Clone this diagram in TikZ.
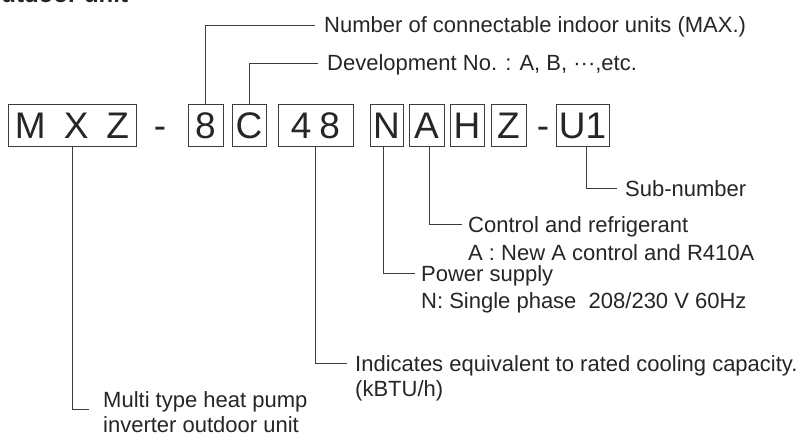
\documentclass[tikz,border=0pt]{standalone}
\usepackage{fontspec}
\setmainfont{Liberation Sans}
\definecolor{ink}{HTML}{262626}
\definecolor{wire}{HTML}{3C3C3C}
\begin{document}
\begin{tikzpicture}[x=1pt,y=-1pt,
  box/.style={draw=wire, line width=0.9pt, inner sep=0pt, minimum height=42pt,
    text height=26.6pt, text depth=0pt, font=\fontsize{37}{40}\selectfont, text=ink},
  dashc/.style={inner sep=0pt, text height=26.6pt, text depth=0pt,
    font=\fontsize{37}{40}\selectfont, text=ink},
  lab/.style={anchor=base west, inner sep=0pt, text height=16pt, text depth=0pt,
    font=\fontsize{22}{27}\selectfont, text=ink},
  wirel/.style={draw=wire, line width=0.9pt}]
\useasboundingbox (0,0) rectangle (807,436);
\clip (0,0) rectangle (807,436);
\fill[white] (0,0) rectangle (807,436);
% title (cut by the frame, as in the reference)
\node[anchor=base west, inner sep=0pt, font=\fontsize{24}{28}\bfseries\selectfont, text=ink] (title) at (-17.5,3) {Outdoor unit};
% code boxes
\node[box, minimum width=128pt] (bMXZ) at (72,125) {M\hspace{18pt}X\hspace{18pt}Z};
\node[dashc] (d1) at (160,125) {-};
\node[box, minimum width=35pt] (b8) at (205.5,125) {8};
\node[box, minimum width=34pt] (bC) at (249,125) {C};
\node[box, minimum width=75pt] (b48) at (315.5,125) {4\hspace{8pt}8};
\node[box, minimum width=33pt] (bN) at (386.5,125) {N};
\node[box, minimum width=35pt] (bA) at (426.5,125) {A};
\node[box, minimum width=34pt] (bH) at (467,125) {H};
\node[box, minimum width=35pt] (bZ) at (508.5,125) {Z};
\node[dashc] (d2) at (543,125) {-};
\node[box, minimum width=53pt] (bU) at (582.5,125) {U1};
% labels
\node[lab] (lNum) at (324,33) {Number of connectable indoor units (MAX.)};
\node[lab] (lDev) at (327,71) {Development No. : A, B, ···,etc.};
\node[lab] (lSub) at (625,196) {Sub-number};
\node[lab] (lCtl) at (468,232) {Control and refrigerant};
\node[lab] (lCtlB) at (468,260) {A : New A control and R410A};
\node[lab] (lPow) at (421,281) {Power supply};
\node[lab] (lPowB) at (421,308) {N: Single phase\ \ 208/230 V 60Hz};
\node[lab] (lInd) at (355,371) {Indicates equivalent to rated cooling capacity.};
\node[lab] (lIndB) at (355,396) {(kBTU/h)};
\node[lab] (lMul) at (103,407) {Multi type heat pump};
\node[lab] (lMulB) at (103,432.5) {inverter outdoor unit};
% connectors
\draw[wirel] (b8.north) |- ([xshift=-9pt]lNum.west);
\draw[wirel] (bC.north) |- ([xshift=-9pt]lDev.west);
\draw[wirel] ([xshift=4pt]bU.south) |- ([xshift=-8pt]lSub.west);
\draw[wirel] ([xshift=3pt]bA.south) |- ([xshift=-6pt]lCtl.west);
\draw[wirel] ([xshift=-3pt]bN.south) |- ([xshift=-6pt]lPow.west);
\draw[wirel] (b48.south) |- ([xshift=-8pt]lInd.west);
\draw[wirel] (bMXZ.south) |- ([xshift=-14pt,yshift=-2pt]lMul.south west);
\end{tikzpicture}
\end{document}
